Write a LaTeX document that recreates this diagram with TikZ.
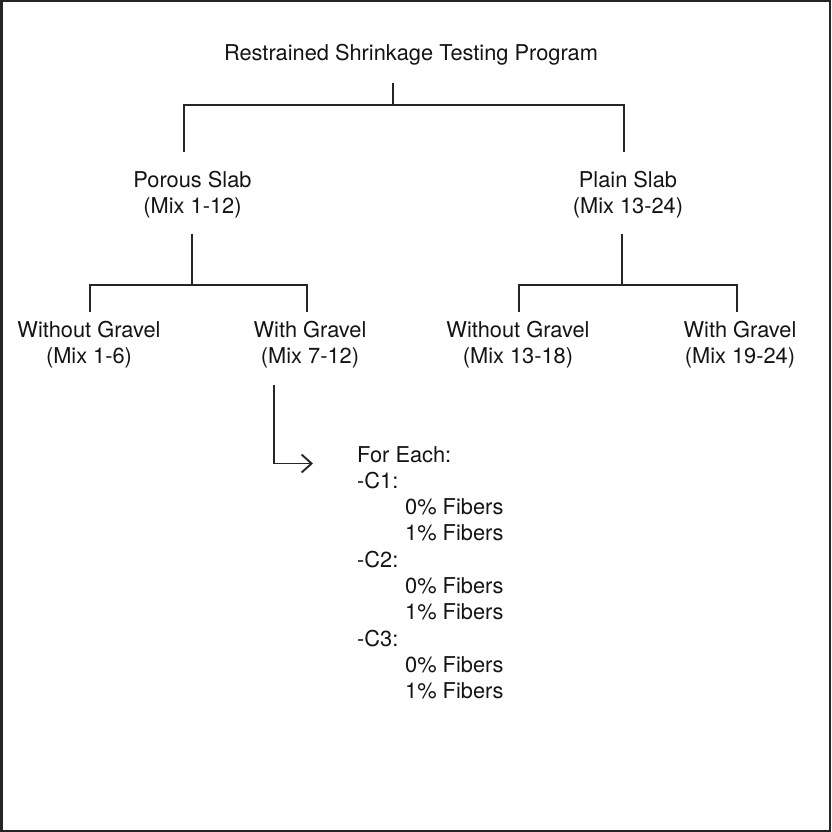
\documentclass[tikz,border=0pt]{standalone}
\usepackage{fontspec}
\setmainfont{TeX Gyre Heros}
\usetikzlibrary{arrows.meta}
\newcommand{\twol}[2]{\vtop{\baselineskip=26.3pt\halign{\hfil##\hfil\cr #1\cr #2\cr}}}
\begin{document}
\begin{tikzpicture}[x=1pt,y=-1pt,
  lbl/.style={inner sep=0pt, anchor=base, font=\fontsize{21.8pt}{26.3pt}\selectfont, text=black!92},
  link/.style={draw=black!85, line width=1.9pt}]
\useasboundingbox (0,0) rectangle (831,832);
\draw[line width=2.5pt, draw=black!85] (1.25,1.25) rectangle (829.75,830.75);

\node[lbl] (title) at (411,61) {Restrained Shrinkage Testing Program};
\node[lbl] (ps) at (192.5,187) {\twol{Porous Slab}{(Mix 1-12)}};
\node[lbl] (pl) at (628,187) {\twol{Plain Slab}{(Mix 13-24)}};
\node[lbl] (a1) at (89,337) {\twol{Without Gravel}{(Mix 1-6)}};
\node[lbl] (a2) at (310,337) {\twol{With Gravel}{(Mix 7-12)}};
\node[lbl] (b1) at (518,337) {\twol{Without Gravel}{(Mix 13-18)}};
\node[lbl] (b2) at (740,337) {\twol{With Gravel}{(Mix 19-24)}};
\node[lbl, anchor=base west] (list) at (357,462) {\vtop{\baselineskip=26.33pt
  \hbox{For Each:}\hbox{-C1:}\hbox{\kern48pt 0\% Fibers}\hbox{\kern48pt 1\% Fibers}
  \hbox{-C2:}\hbox{\kern48pt 0\% Fibers}\hbox{\kern48pt 1\% Fibers}
  \hbox{-C3:}\hbox{\kern48pt 0\% Fibers}\hbox{\kern48pt 1\% Fibers}}};

\coordinate (j0) at (393,105);
\coordinate (j1) at (192,285);
\coordinate (j2) at (622,285);

\draw[link] ([yshift=-17pt]title.south -| j0) -- (j0);
\draw[link] ([yshift=19pt]ps.north -| 184,0) |- (j0) -| ([yshift=19pt]pl.north -| 624,0);

\draw[link] ([yshift=-15.4pt]ps.south -| j1) -- (j1);
\draw[link] ([yshift=9pt]a1.north -| 90,0) |- (j1) -| ([yshift=9pt]a2.north -| 307,0);

\draw[link] ([yshift=-15.4pt]pl.south -| j2) -- (j2);
\draw[link] ([yshift=9pt]b1.north -| 519,0) |- (j2) -| ([yshift=9pt]b2.north -| 737,0);

\draw[link, -{Straight Barb[length=10pt,width=18pt]}] ([yshift=-17pt]a2.south -| 274,0) |- ([xshift=-44pt,yshift=-1.5pt]list.base west);
\end{tikzpicture}
\end{document}
